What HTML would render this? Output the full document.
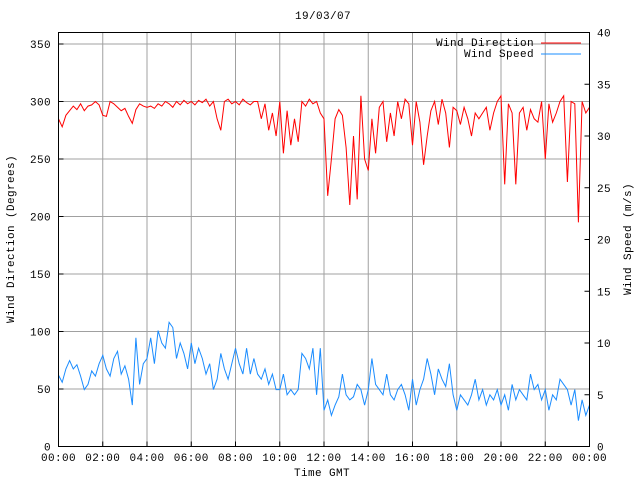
<!DOCTYPE html>
<html><head><meta charset="utf-8"><style>
body{margin:0;background:#fff}
svg{display:block;font-family:"Liberation Mono","DejaVu Sans Mono",monospace;font-size:11px;letter-spacing:0.4px}
</style></head><body>
<svg id="chart" width="640" height="480" viewBox="0 0 640 480" xmlns="http://www.w3.org/2000/svg">
<rect width="640" height="480" fill="#fff"/>
<g id="grid"></g>
<g id="series"></g>
<rect x="58.5" y="32.5" width="531" height="414" fill="none" stroke="#000"/>
<g id="axes"></g>
<text x="323" y="19" text-anchor="middle">19/03/07</text>
<text x="322" y="476" text-anchor="middle">Time GMT</text>
<text transform="translate(14,239) rotate(-90)" text-anchor="middle">Wind Direction (Degrees)</text>
<text transform="translate(631,239) rotate(-90)" text-anchor="middle">Wind Speed (m/s)</text>
<g>
<text x="534" y="46" text-anchor="end">Wind Direction</text>
<line x1="541" y1="43" x2="581" y2="43" stroke="#ff0000"/>
<text x="534" y="57" text-anchor="end">Wind Speed</text>
<line x1="541" y1="54" x2="581" y2="54" stroke="#1a8cff"/>
</g>
</svg>
<script>
// time in hours, 10-min steps
const xTickLabels = ["00:00","02:00","04:00","06:00","08:00","10:00","12:00","14:00","16:00","18:00","20:00","22:00","00:00"];
const leftTicks = [0,50,100,150,200,250,300,350];
const rightTicks = [0,5,10,15,20,25,30,35,40];
const direction = [
285,278,288,292,296,293, 298,292,296,297,300,297, 288,287,300,298,295,292, 294,287,281,293,298,296,
295,296,294,298,296,300, 298,295,300,297,301,298, 300,297,301,299,302,296, 300,285,275,300,302,298,
300,297,302,299,297,300, 300,285,298,275,290,270, 300,255,292,262,285,265, 300,296,302,298,300,290,
285,218,250,285,293,288, 260,210,270,215,305,250, 240,285,255,295,300,265, 290,270,300,285,302,298,
262,300,282,245,270,292, 300,280,302,290,260,295, 292,280,295,285,270,290, 285,290,295,275,290,300,
305,228,298,290,228,290, 295,275,293,285,282,300, 250,298,282,290,300,305, 230,300,298,195,300,290, 295];
const speed = [
6.9,6.2,7.5,8.3,7.5,7.9, 6.8,5.5,6.0,7.3,6.8,8.0, 8.8,7.5,6.8,8.5,9.2,7.0, 7.8,6.5,4.0,10.5,6.0,8.0,
8.5,10.5,8.0,11.2,10.0,9.5, 12.0,11.5,8.5,10.0,9.0,7.5, 10.0,8.0,9.5,8.5,7.0,8.0, 5.5,6.5,9.0,7.5,6.5,8.0,
9.5,8.0,7.0,9.5,7.0,8.5, 7.0,6.5,7.5,6.0,7.0,5.5, 5.5,7.0,5.0,5.5,5.0,5.5, 9.0,8.5,7.5,9.5,5.0,9.5,
3.5,4.5,3.0,4.0,4.8,7.0, 5.0,4.5,4.8,6.0,5.5,4.0, 5.5,8.5,6.0,5.5,5.0,7.0, 5.0,4.5,5.5,6.0,5.0,3.5,
6.5,4.0,5.5,6.5,8.5,7.0, 5.0,7.5,6.5,5.8,8.0,5.0, 3.5,5.0,4.5,4.0,5.0,6.5, 4.5,5.5,4.0,5.0,4.5,5.5,
4.0,5.0,3.5,6.0,4.5,5.5, 5.0,4.5,7.0,5.5,6.0,4.5, 5.5,3.5,5.0,4.5,6.5,6.0, 5.5,4.0,5.5,2.5,4.5,3.0, 4.0];
const X0=58.5,X1=589.5,Y0=446.5,Y1=32.5;
const xs=h=>X0+(X1-X0)*h/24;
const yL=v=>Y0-(Y0-Y1)*v/360;
const yR=v=>Y0-(Y0-Y1)*v/40;
const NS="http://www.w3.org/2000/svg";
function mk(tag,parent,attrs){const e=document.createElementNS(NS,tag);for(const k in attrs)e.setAttribute(k,attrs[k]);parent.appendChild(e);return e;}
const grid=document.getElementById('grid'),axes=document.getElementById('axes'),series=document.getElementById('series');
xTickLabels.forEach((t,i)=>{const x=xs(i*2);
 if(i>0&&i<12){const g=mk('line',grid,{x1:x,y1:Y1,x2:x,y2:Y0,stroke:'#a0a0a0'});
 
 }
 const tk=mk('line',axes,{x1:x,y1:Y0,x2:x,y2:Y0-5,stroke:'#000'});
 
 
 const tx=mk('text',axes,{x:x,y:461,'text-anchor':'middle'});tx.textContent=t;
 
 
});
leftTicks.forEach(v=>{const y=yL(v);
 if(v>0){const g=mk('line',grid,{x1:X0,y1:y,x2:X1,y2:y,stroke:'#a0a0a0'});
 
 }
 const tk=mk('line',axes,{x1:X0,y1:y,x2:X0+5,y2:y,stroke:'#000'});
 
 
 const tx=mk('text',axes,{x:51,y:y+4,'text-anchor':'end'});tx.textContent=v;
 
 
});
rightTicks.forEach(v=>{const y=yR(v);
 const tk=mk('line',axes,{x1:X1,y1:y,x2:X1-5,y2:y,stroke:'#000'});
 
 
 const tx=mk('text',axes,{x:597,y:y+4,'text-anchor':'start'});tx.textContent=v;
 
 
});
const step=24/(direction.length-1);
const dl=mk('polyline',series,{fill:'none',stroke:'#ff0000','stroke-width':1,points:direction.map((v,i)=>xs(i*step).toFixed(1)+','+yL(v).toFixed(1)).join(' ')});


const st=24/(speed.length-1);
const sl=mk('polyline',series,{fill:'none',stroke:'#1a8cff','stroke-width':1,points:speed.map((v,i)=>xs(i*st).toFixed(1)+','+yR(v).toFixed(1)).join(' ')});


</script>
</body></html>
